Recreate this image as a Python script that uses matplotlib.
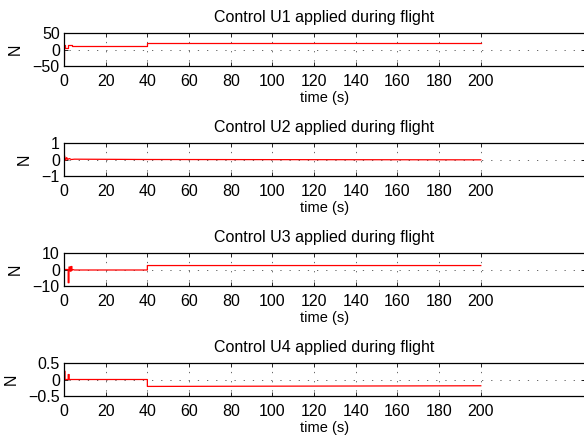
import matplotlib
matplotlib.use("Agg")
import matplotlib.pyplot as plt
import numpy as np

plt.rcParams.update({"font.family": ["Liberation Sans", "DejaVu Sans"], "font.size": 10})

# ── Data ─────────────────────────────────────────────────────────────────────
titles = ["Control U1 applied during flight", "Control U2 applied during flight",
          "Control U3 applied during flight", "Control U4 applied during flight"]

t1 = [0, 0, 0.6, 0.6, 2.0, 2.0, 4.0, 4.0, 40, 40, 200]
u1 = [-30, 14, 14, 6, 6, 14, 14, 11, 11, 20, 20]

t2 = [0, 0, 0.8, 1.3, 1.8, 2.5, 3.5, 5, 40, 200]
u2 = [-1, 0.35, -0.05, 0.12, 0.0, 0.06, 0.0, 0.02, 0.0, -0.02]

t3 = [0, 0, 0.5, 2.0, 2.0, 2.4, 2.4, 3.0, 3.0, 3.4, 3.4, 3.8, 3.8, 4.2, 5, 40, 40, 200]
u3 = [10, 0, 0, 0, -8, -8, 1.5, 1.5, -1, -1, 1.8, 1.8, -0.5, 0, -0.3, -0.3, 2.4, 2.4]

t4 = [0, 0, 0.5, 0.5, 2.0, 2.0, 2.5, 2.5, 40, 40, 200]
u4 = [0.25, 0.25, 0.25, 0.0, 0.0, 0.15, 0.15, 0.0, 0.0, -0.21, -0.19]

series = [(t1, u1), (t2, u2), (t3, u3), (t4, u4)]
ylims = [(-50, 50), (-1, 1), (-10, 10), (-0.5, 0.5)]
yticks = [[-50, 0, 50], [-1, 0, 1], [-10, 0, 10], [-0.5, 0, 0.5]]
yticklabels = [["\u221250", "0", "50"], ["\u22121", "0", "1"],
               ["\u221210", "0", "10"], ["\u22120.5", "0", "0.5"]]
xticks = list(range(0, 201, 20))

W, H = 584, 441
fig = plt.figure(figsize=(W / 100, H / 100), dpi=100)

tops = [33, 143, 253, 363]
for i, (t, u) in enumerate(series):
    ax = fig.add_axes([64 / W, 1 - (tops[i] + 33) / H, (585 - 64) / W, 33 / H])
    ax.plot(t, u, color="red", lw=0.9)
    ax.set_xlim(0, 250)
    ax.set_ylim(*ylims[i])
    ax.set_xticks(xticks)
    ax.set_yticks(yticks[i])
    ax.set_yticklabels(yticklabels[i])
    ax.tick_params(direction="in", top=True, right=True, length=3, width=0.6,
                   labelsize=11.5)
    ax.tick_params(axis="x", pad=6)
    ax.tick_params(axis="y", pad=3)
    ax.grid(True, color="0.3", linestyle=(5, (1.5, 9.5)), lw=0.6)
    for sp in ax.spines.values():
        sp.set_linewidth(0.9)
    ax.set_title(titles[i], fontsize=11.5, pad=8)
    ax.set_xlabel("time (s)", fontsize=10.5, labelpad=1)
    ax.set_ylabel("N", fontsize=11.5, labelpad=7)

fig.savefig("out.png", dpi=100)
